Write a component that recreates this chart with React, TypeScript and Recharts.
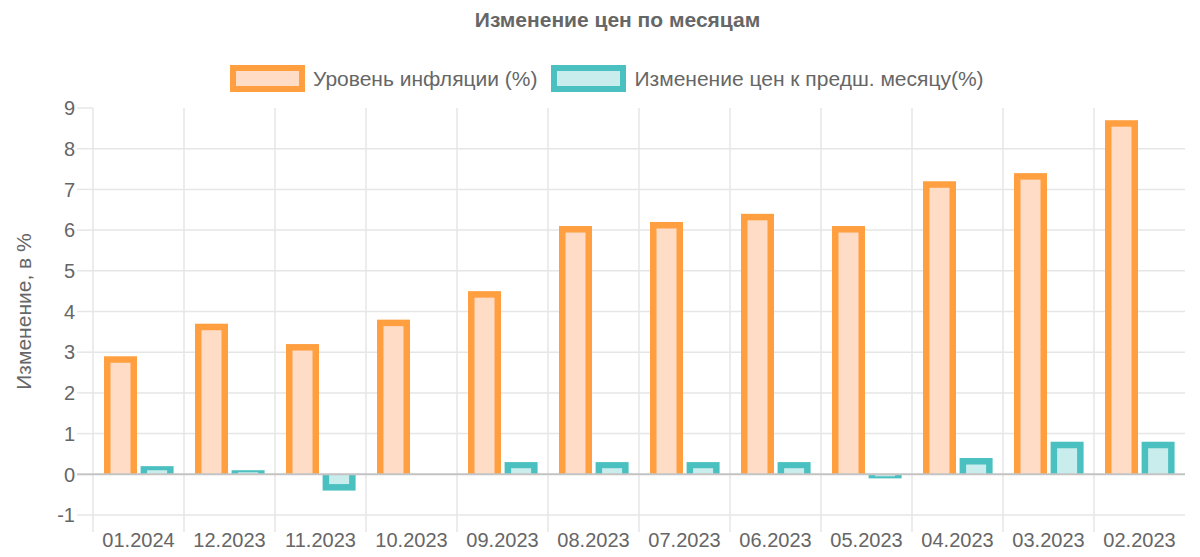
import React from "react";
import { Bar, BarChart, CartesianGrid, ReferenceLine, XAxis, YAxis } from "recharts";

const months = [
  "01.2024", "12.2023", "11.2023", "10.2023", "09.2023", "08.2023",
  "07.2023", "06.2023", "05.2023", "04.2023", "03.2023", "02.2023",
];
const inflation = [2.9, 3.7, 3.2, 3.8, 4.5, 6.1, 6.2, 6.4, 6.1, 7.2, 7.4, 8.7];
const monthChange = [0.2, 0.1, -0.4, 0, 0.3, 0.3, 0.3, 0.3, -0.1, 0.4, 0.8, 0.8];
const yTicks = [-1, 0, 1, 2, 3, 4, 5, 6, 7, 8, 9];

const data = months.map((m, i) => ({
  month: m,
  inflation: inflation[i],
  change: monthChange[i],
}));

const W = 1200;
const H = 557;
const MARGIN = { top: 108, right: 15, bottom: 0, left: 0 };
const Y_AXIS_W = 93;
const X_AXIS_H = 42;
const BAND = (W - MARGIN.right - Y_AXIS_W) / months.length;

const FONT = '"Liberation Sans", Arial, Helvetica, sans-serif';
const TEXT = "#666";
const GRID = "#e6e6e6";
const ORANGE = "rgb(255,159,64)";
const ORANGE_FILL = "rgb(255,220,197)";
const TEAL = "rgb(75,192,192)";
const TEAL_FILL = "rgb(201,236,236)";
const BW = 6.5;

// chart.js style bar: border drawn inside, base side skipped
function makeShape(stroke: string, fill: string) {
  return (props: any) => {
    const { x, y, width, height, value } = props;
    const v = Array.isArray(value) ? value[1] : value;
    if (!height || !v) return <g />;
    const top = Math.min(y, y + height);
    const h = Math.abs(height);
    const side = Math.min(BW, width / 2);
    const end = Math.min(BW, h / 2);
    const neg = v < 0;
    return (
      <g>
        <rect x={x} y={top} width={width} height={h} fill={stroke} />
        <rect
          x={x + side}
          y={neg ? top : top + end}
          width={width - side * 2}
          height={h - end}
          fill={fill}
        />
      </g>
    );
  };
}

function XTick(props: any) {
  const { x, y, payload } = props;
  const left = x - BAND / 2;
  return (
    <g>
      <line x1={left} x2={left} y1={y} y2={y + 17} stroke={GRID} strokeWidth={1.5} />
      <text x={x} y={y + 32} textAnchor="middle" fill={TEXT} fontSize={20} fontFamily={FONT}>
        {payload.value}
      </text>
    </g>
  );
}

function YTick(props: any) {
  const { x, y, payload } = props;
  return (
    <g>
      <line
        x1={x - 16}
        x2={x}
        y1={y}
        y2={y}
        stroke={payload.value === 0 ? "#c4c4c4" : GRID}
        strokeWidth={payload.value === 0 ? 2 : 1.5}
      />
      <text x={x - 18} y={y} dy="0.36em" textAnchor="end" fill={TEXT} fontSize={20} fontFamily={FONT}>
        {payload.value}
      </text>
    </g>
  );
}

function LegendItem({ stroke, fill, label }: { stroke: string; fill: string; label: string }) {
  return (
    <div style={{ display: "flex", alignItems: "center", marginRight: 14 }}>
      <div
        style={{
          boxSizing: "border-box",
          width: 75,
          height: 27,
          border: `${BW}px solid ${stroke}`,
          background: fill,
          marginRight: 8,
        }}
      />
      <span style={{ fontSize: 21, color: TEXT, fontFamily: FONT }}>{label}</span>
    </div>
  );
}

export default function App() {
  return (
    <div style={{ position: "absolute", left: 0, top: 0, width: W, height: H, background: "#fff" }}>
      <div
        style={{
          position: "absolute",
          top: 8,
          left: 0,
          width: 1235,
          textAlign: "center",
          fontFamily: FONT,
          fontWeight: "bold",
          fontSize: 21,
          color: TEXT,
        }}
      >
        Изменение цен по месяцам
      </div>
      <div style={{ position: "absolute", top: 65, left: 230, display: "flex" }}>
        <LegendItem stroke={ORANGE} fill={ORANGE_FILL} label="Уровень инфляции (%)" />
        <LegendItem stroke={TEAL} fill={TEAL_FILL} label="Изменение цен к предш. месяцу(%)" />
      </div>
      <BarChart
        width={W}
        height={H}
        data={data}
        margin={MARGIN}
        barSize={33}
        barGap={3.6}
        style={{ position: "absolute", left: 0, top: 0 }}
      >
        <CartesianGrid
          stroke={GRID}
          strokeWidth={1.5}
          horizontalValues={yTicks.filter((t) => t < 9)}
          verticalCoordinatesGenerator={({ offset }: any) => {
            const left = offset?.left ?? Y_AXIS_W;
            const width = offset?.width ?? BAND * months.length;
            const step = width / months.length;
            return months.map((_, i) => left + i * step);
          }}
        />
        <XAxis
          dataKey="month"
          height={X_AXIS_H}
          axisLine={false}
          tickLine={false}
          tickSize={0}
          tickMargin={0}
          interval={0}
          tick={<XTick />}
        />
        <YAxis
          width={Y_AXIS_W}
          domain={[-1, 9]}
          ticks={yTicks}
          allowDataOverflow
          axisLine={false}
          tickLine={false}
          tickSize={0}
          tickMargin={0}
          tick={<YTick />}
          label={{
            value: "Изменение, в %",
            angle: -90,
            position: "insideLeft",
            dx: 19,
            dy: 0,
            style: { fill: TEXT, fontSize: 21, fontFamily: FONT, textAnchor: "middle" },
          }}
        />
        <ReferenceLine y={0} stroke="#c4c4c4" strokeWidth={2} />
        <Bar
          dataKey="inflation"
          name="Уровень инфляции (%)"
          shape={makeShape(ORANGE, ORANGE_FILL)}
          isAnimationActive={false}
        />
        <Bar
          dataKey="change"
          name="Изменение цен к предш. месяцу(%)"
          shape={makeShape(TEAL, TEAL_FILL)}
          isAnimationActive={false}
        />
      </BarChart>
    </div>
  );
}
